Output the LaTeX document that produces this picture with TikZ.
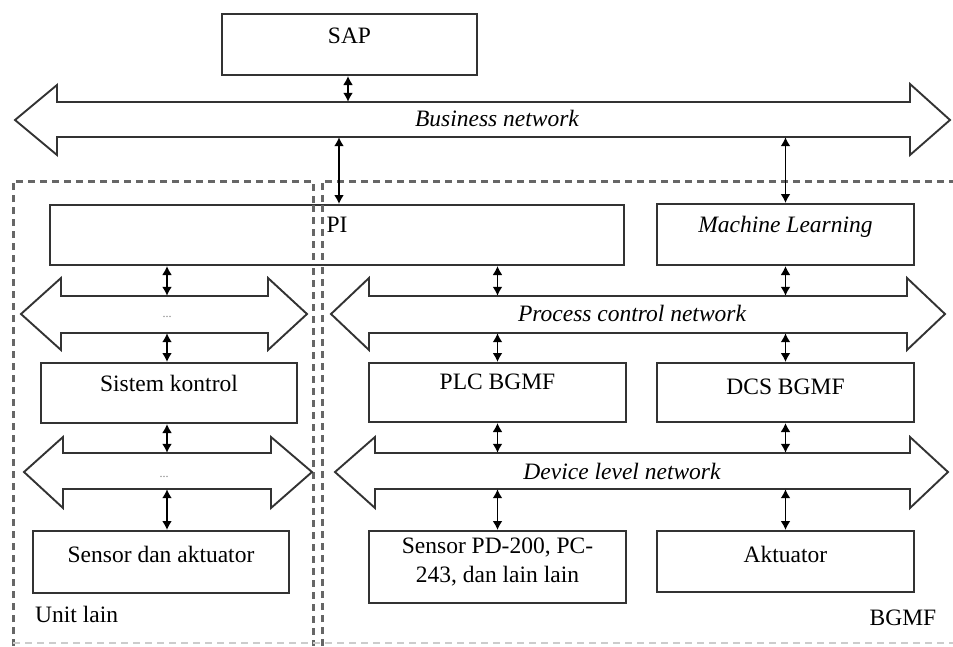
\documentclass[tikz,border=0pt]{standalone}
\usepackage{fontspec}
\setmainfont{Liberation Serif}
\usetikzlibrary{arrows.meta,fit}
\begin{document}
\begin{tikzpicture}[x=1pt,y=-1pt,
  box/.style={draw=black!80, line width=2pt, inner sep=0pt},
  shaft/.style={inner sep=0pt},
  net/.style={draw=black!80, line width=1.9pt, fill=white, line join=miter},
  lbl/.style={inner sep=0pt, font=\fontsize{23.5}{28}\selectfont},
  nlbl/.style={inner sep=0pt, font=\fontsize{23.5}{28}\selectfont\itshape},
  dots/.style={inner sep=0pt, text=black!50, font=\fontsize{12}{14}\selectfont},
  dbl/.style={{Latex[length=9pt,width=10pt]}-{Latex[length=9pt,width=10pt]}, line width=1.9pt, black},
  zone/.style={draw=black!60, line width=3pt, dash pattern=on 7pt off 5pt}]
\useasboundingbox (0,0) rectangle (953,646);
\fill[white] (0,0) rectangle (953,646);

% zones
\draw[zone] (13,646) -- (13,181) -- (313,181) -- (313,646);
\draw[zone] (322,646) -- (322,181) -- (953,181);
\draw[draw=black!20, line width=1.5pt, dash pattern=on 7pt off 5pt] (13,643) -- (953,643);

% network arrows
\draw[net] (15,120) -- (57,85) -- (57,102) -- (910,102) -- (910,84) -- (950,120) -- (910,155) -- (910,137) -- (57,137) -- (57,155) -- cycle;
\draw[net] (331,314) -- (369,278) -- (369,296) -- (907,296) -- (907,278) -- (945,314) -- (907,350) -- (907,333) -- (369,333) -- (369,350) -- cycle;
\draw[net] (21,314) -- (61,278) -- (61,296) -- (268,296) -- (268,278) -- (307,314) -- (268,350) -- (268,333) -- (61,333) -- (61,350) -- cycle;
\draw[net] (24,472) -- (63,437) -- (63,453) -- (271,453) -- (271,437) -- (312,472) -- (271,508) -- (271,489) -- (63,489) -- (63,508) -- cycle;
\draw[net] (335,472) -- (375,437) -- (375,453) -- (910,453) -- (910,437) -- (948,472) -- (910,508) -- (910,489) -- (375,489) -- (375,508) -- cycle;

\node[shaft, fit={(57,102) (910,137)}] (bn) {};
\node[shaft, fit={(369,296) (907,333)}] (pcn) {};
\node[shaft, fit={(61,296) (268,333)}] (n1) {};
\node[shaft, fit={(63,453) (271,489)}] (n2) {};
\node[shaft, fit={(375,453) (910,489)}] (dln) {};

\node[nlbl] at (497,118) {Business network};
\node[nlbl] at (632,313) {Process control network};
\node[nlbl] at (622,471) {Device level network};
\node[dots] (d1) at (167,317) {...};
\node[dots] (d2) at (164,477) {...};

% boxes
\node[box, fill=white, fit={(222,14) (477,75)}] (sap) {};
\node[box, fill=white, fit={(50,205) (624,265)}] (pi) {};
\node[box, fill=white, fit={(657,204) (914,265)}] (ml) {};
\node[box, fill=white, fit={(41,363) (297,423)}] (sk) {};
\node[box, fill=white, fit={(369,363) (626,422)}] (plc) {};
\node[box, fill=white, fit={(657,363) (914,422)}] (dcs) {};
\node[box, fill=white, fit={(33,531) (289,593)}] (sda) {};
\node[box, fill=white, fit={(369,531) (626,603)}] (spd) {};
\node[box, fill=white, fit={(657,531) (914,592)}] (akt) {};

% zone lines crossing the PI box
\draw[zone] (313,205) -- (313,265);
\draw[zone] (322,205) -- (322,265);

\node[lbl] at ([yshift=9pt]sap.center) {SAP};
\node[lbl] at ([yshift=10pt]pi.center) {PI};
\node[nlbl] at ([yshift=8pt]ml.center) {Machine Learning};
\node[lbl] at ([yshift=10pt]sk.center) {Sistem kontrol};
\node[lbl] at ([yshift=11pt]plc.center) {PLC BGMF};
\node[lbl] at ([yshift=6pt]dcs.center) {DCS BGMF};
\node[lbl] at ([yshift=8pt]sda.center) {Sensor dan aktuator};
\node[lbl, align=center, font=\fontsize{23.5}{29}\selectfont] at ([yshift=5pt]spd.center) {Sensor PD-200, PC-\\243, dan lain lain};
\node[lbl] at ([yshift=7pt]akt.center) {Aktuator};

\node[lbl, anchor=west] (ul) at (35,614) {Unit lain};
\node[lbl] (bg) at (903,618) {BGMF};

% connectors
\coordinate (xs) at (348,0);
\coordinate (xp) at (339,0);
\coordinate (xl) at (167,0);
\draw[dbl] (sap.south -| xs) -- (bn.north -| xs);
\draw[dbl] (bn.south -| xp) -- (pi.north -| xp);
\draw[dbl] (bn.south -| ml.north) -- (ml.north);
\draw[dbl] (pi.south -| xl) -- (n1.north -| xl);
\draw[dbl] (n1.south -| xl) -- (sk.north -| xl);
\draw[dbl] (sk.south -| xl) -- (n2.north -| xl);
\draw[dbl] (n2.south -| xl) -- (sda.north -| xl);
\draw[dbl] (pi.south -| plc.north) -- (pcn.north -| plc.north);
\draw[dbl] (pcn.south -| plc.north) -- (plc.north);
\draw[dbl] (ml.south) -- (pcn.north -| ml.south);
\draw[dbl] (pcn.south -| dcs.north) -- (dcs.north);
\draw[dbl] (plc.south) -- (dln.north -| plc.south);
\draw[dbl] (dln.south -| spd.north) -- (spd.north);
\draw[dbl] (dcs.south) -- (dln.north -| dcs.south);
\draw[dbl] (dln.south -| akt.north) -- (akt.north);
\end{tikzpicture}
\end{document}
